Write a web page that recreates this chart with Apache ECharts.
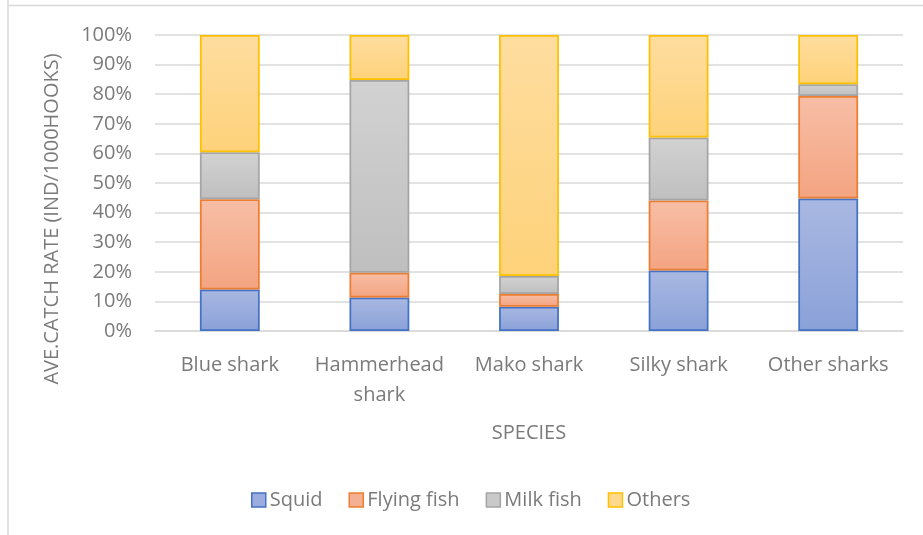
<!DOCTYPE html>
<html>
<head>
<meta charset="utf-8">
<script src="https://cdn.jsdelivr.net/npm/echarts@6/dist/echarts.min.js"></script>
<style>
  html, body { margin: 0; padding: 0; background: #fff; }
  #chart { width: 923px; height: 535px; }
</style>
</head>
<body>
<div id="chart"></div>
<script>
// Share of catch by prey group for each shark species (percent of total)
const species = ['Blue shark', 'Hammerhead\nshark', 'Mako shark', 'Silky shark', 'Other sharks'];
const squid = [14.0, 11.3, 8.2, 20.4, 44.8];
const flyingFish = [30.5, 8.4, 4.3, 23.7, 34.6];
const milkFish = [15.9, 65.1, 6.1, 21.3, 4.0];
const others = [39.6, 15.2, 81.4, 34.6, 16.6];
const yTicks = [0, 10, 20, 30, 40, 50, 60, 70, 80, 90, 100];

const FONT = '"Open Sans", "Noto Sans", sans-serif';
const TEXT = '#7a7a7a';
const FS = 20;

function fill(top, bottom) {
  return new echarts.graphic.LinearGradient(0, 0, 0, 1, [
    { offset: 0, color: top },
    { offset: 1, color: bottom }
  ]);
}

function series(name, data, top, bottom, border) {
  return {
    name: name,
    type: 'bar',
    stack: 'total',
    barWidth: '40%',
    data: data,
    itemStyle: { color: fill(top, bottom), borderColor: border, borderWidth: 1.75 },
    emphasis: { disabled: true }
  };
}

const chart = echarts.init(document.getElementById('chart'));
chart.setOption({
  animation: false,
  textStyle: { fontFamily: FONT },
  grid: { left: 155, right: 20, top: 35, bottom: 204 },
  legend: {
    top: 485,
    left: 246,
    itemWidth: 14,
    itemHeight: 14,
    itemGap: 26,
    icon: 'rect',
    textStyle: { color: TEXT, fontSize: FS, fontFamily: FONT, padding: [0, 0, 0, -1] },
    data: [
      { name: 'Squid', itemStyle: { color: '#9aadde', borderColor: '#4472c4', borderWidth: 1.5 } },
      { name: 'Flying fish', itemStyle: { color: '#f5b094', borderColor: '#ed7d31', borderWidth: 1.5 } },
      { name: 'Milk fish', itemStyle: { color: '#c9c9c9', borderColor: '#a5a5a5', borderWidth: 1.5 } },
      { name: 'Others', itemStyle: { color: '#fed88c', borderColor: '#ffc000', borderWidth: 1.5 } }
    ]
  },
  xAxis: {
    type: 'category',
    data: species,
    name: 'SPECIES',
    nameLocation: 'middle',
    nameGap: 92,
    nameTextStyle: { color: TEXT, fontSize: FS, fontFamily: FONT },
    axisLine: { lineStyle: { color: '#d9d9d9', width: 1.5 } },
    axisTick: { show: false },
    axisLabel: { color: TEXT, fontSize: FS, fontFamily: FONT, margin: 19, lineHeight: 30, interval: 0 }
  },
  yAxis: {
    type: 'value',
    min: yTicks[0],
    max: yTicks[yTicks.length - 1],
    interval: 10,
    axisLine: { show: false },
    axisTick: { show: false },
    splitLine: { lineStyle: { color: '#d9d9d9', width: 1.5 } },
    axisLabel: { color: TEXT, fontSize: FS, fontFamily: FONT, margin: 23, formatter: '{value}%' }
  },
  graphic: [
    {
      type: 'text',
      x: 52,
      y: 219,
      rotation: Math.PI / 2,
      style: {
        text: 'AVE.CATCH RATE (IND/1000HOOKS)',
        fill: TEXT,
        font: FS + 'px ' + FONT,
        align: 'center',
        verticalAlign: 'middle'
      }
    },
    {
      type: 'line',
      shape: { x1: 8, y1: 0, x2: 8, y2: 535 },
      style: { stroke: '#d9d9d9', lineWidth: 1.5 }
    },
    {
      type: 'line',
      shape: { x1: 8, y1: 5.5, x2: 923, y2: 5.5 },
      style: { stroke: '#d9d9d9', lineWidth: 1.5 }
    }
  ],
  series: [
    series('Squid', squid, '#a9b8e2', '#8aa1d8', '#4472c4'),
    series('Flying fish', flyingFish, '#f7bea6', '#f4a481', '#ed7d31'),
    series('Milk fish', milkFish, '#d2d2d2', '#bfbfbf', '#a5a5a5'),
    series('Others', others, '#fedd9f', '#fed27a', '#ffc000')
  ]
});
</script>
</body>
</html>
